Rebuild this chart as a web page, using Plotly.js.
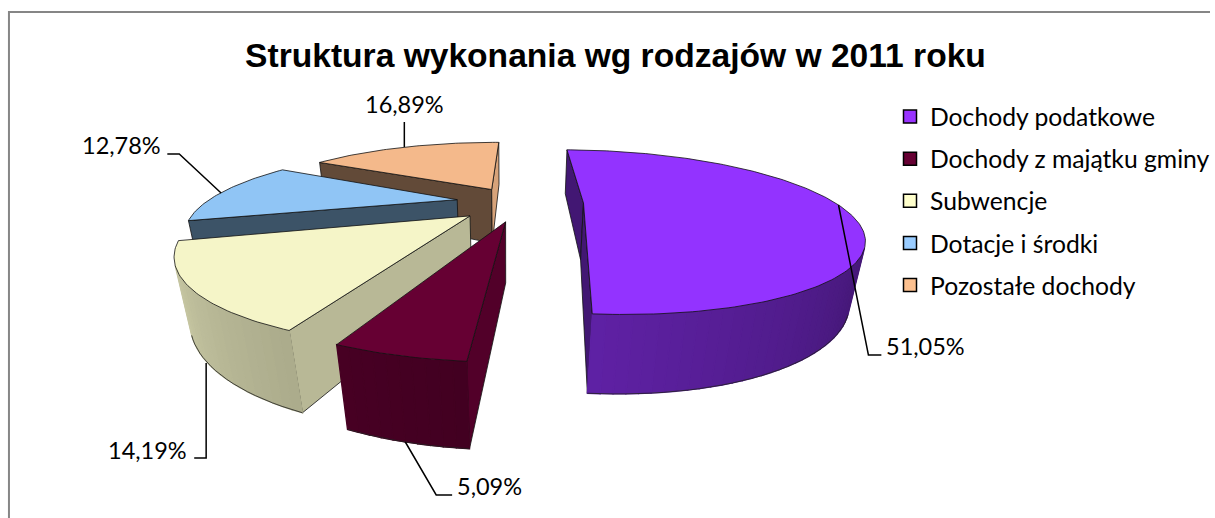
<!DOCTYPE html>
<html><head><meta charset="utf-8">
<script src="https://cdn.plot.ly/plotly-3.0.1.min.js"></script>
<style>html,body{margin:0;padding:0;background:#fff}</style></head>
<body><div id="chart" style="width:1215px;height:518px"></div>
<script>
// ---- data ----
const categories = ["Dochody podatkowe","Dochody z majątku gminy","Subwencje","Dotacje i środki","Pozostałe dochody"];
const values = [51.05,5.09,14.19,12.78,16.89];

// ---- styles ----
const topColors = ["#9333FF","#660033","#F5F5C8","#90C5F5","#F4B98B"];
const legendColors = ["#9933FF","#660033","#FFFFCC","#99CCFF","#FCC08F"];
const startShade = [0.45,0.80,0.75,0.42,0.40];
const endShade   = [0.45,0.80,0.75,0.42,0.88];
const pulls = [0.30,0.24,0.22,0.21,0.212];
const pullDirs = [90,182,220,283,341];
const drawOrder = [4,3,2,1,0];

// ---- 3D pie projection parameters ----
const cam = {c:510, cy:203, R:253, ry:72, k:0.354, m:0.04, D:59, rot:1};
function project(X,Y,z){
  const p = 1/(1+cam.k*Y+cam.m*z);
  return [cam.c+cam.R*X*p, cam.cy+(-cam.ry*Y+cam.D*z)*p];
}
const rad = d => d*Math.PI/180;
function shadeHex(hex,s){
  const n=parseInt(hex.slice(1),16);
  const f=v=>Math.round(v*s);
  return `rgb(${f(n>>16&255)},${f(n>>8&255)},${f(n&255)})`;
}
function arcShade(theta){ return Math.min(1,0.37+(theta-90)*0.0029); }

const total = values.reduce((a,b)=>a+b,0);
let acc = cam.rot;
const wedges = values.map((v,i)=>{
  const a0=acc, a1=acc+v/total*360; acc=a1;
  const dir=rad(pullDirs[i]);
  return {i,a0,a1,ex:pulls[i]*Math.sin(dir),ey:pulls[i]*Math.cos(dir)};
});
function rim(w,deg){ return [w.ex+Math.sin(rad(deg)),w.ey+Math.cos(rad(deg))]; }

const traces=[];
// legend entries
categories.forEach((name,i)=>traces.push({
  type:'scatter',mode:'markers',x:[null],y:[null],name,legendgroup:name,
  marker:{symbol:'square',size:13,color:legendColors[i],line:{color:'#000',width:1.5}},
  hoverinfo:'skip'
}));
function quad(a,b,color,outline){
  const t1=project(a[0],a[1],0),t2=project(b[0],b[1],0),b2=project(b[0],b[1],1),b1=project(a[0],a[1],1);
  const pts=[t1,t2,b2,b1];
  let area=0;
  for(let j=0;j<4;j++){const u=pts[j],w=pts[(j+1)%4];area+=u[0]*w[1]-w[0]*u[1];}
  if(area>=0) return false;
  traces.push({type:'scatter',mode:'lines',fill:'toself',fillcolor:color,
    x:[t1[0],t2[0],b2[0],b1[0],t1[0]],y:[t1[1],t2[1],b2[1],b1[1],t1[1]],
    line:{color:outline||color,width:outline?0.8:1.3},showlegend:false,hoverinfo:'skip'});
  return true;
}
drawOrder.forEach(idx=>{
  const w=wedges[idx],apex=[w.ex,w.ey];
  const base=topColors[idx];
  const s0=rim(w,w.a0),s1=rim(w,w.a1);
  quad(apex,s0,shadeHex(base,startShade[idx]),'#111');
  quad(s1,apex,shadeHex(base,endShade[idx]),'#111');
  const n=Math.max(3,Math.ceil((w.a1-w.a0)/2));
  const bx=[],by=[];
  for(let j=0;j<n;j++){
    const d0=w.a0+(w.a1-w.a0)*j/n,d1=w.a0+(w.a1-w.a0)*(j+1)/n;
    const vis=quad(rim(w,d0),rim(w,d1),shadeHex(base,arcShade((d0+d1)/2)));
    if(vis){
      const b0=project(...rim(w,d0),1),b1=project(...rim(w,d1),1);
      bx.push(b0[0],b1[0]);by.push(b0[1],b1[1]);
    }
  }
  if(bx.length) traces.push({type:'scatter',mode:'lines',x:bx,y:by,line:{color:'#222',width:0.8},showlegend:false,hoverinfo:'skip'});
  // top face
  const tx=[],ty=[];
  const a=project(apex[0],apex[1],0);tx.push(a[0]);ty.push(a[1]);
  const m=Math.ceil(w.a1-w.a0);
  for(let j=0;j<=m;j++){const q=project(...rim(w,w.a0+(w.a1-w.a0)*j/m),0);tx.push(q[0]);ty.push(q[1]);}
  tx.push(a[0]);ty.push(a[1]);
  traces.push({type:'scatter',mode:'lines',fill:'toself',fillcolor:base,x:tx,y:ty,
    line:{color:'#111',width:0.8},showlegend:false,name:categories[idx],hoverinfo:'name',hoveron:'fills'});
});

// ---- data labels ----
const fmt = v => v.toFixed(2).replace('.',',')+'%';
const labelPos = [[888,346,'left'],[457,486,'left'],[190,450,'right'],[164,145,'right'],[406,104,'center']];
const leaderPaths = [
  "M842,205L872,355L885,355",
  "M407,442L438,495L454,495",
  "M207,363L207,458L195,458",
  "M222,193L180,154L168,154",
  "M406,122L406,147"
];
const font = "Lato, 'Open Sans', sans-serif";
const annotations = values.map((v,i)=>({
  text:fmt(v),x:labelPos[i][0],y:labelPos[i][1],xref:'x',yref:'y',showarrow:false,
  xanchor:labelPos[i][2],yanchor:'middle',font:{family:font,size:23.5,color:'#000'}
}));
const shapes = leaderPaths.map(p=>({type:'path',path:p,xref:'x',yref:'y',line:{color:'#000',width:1.5},layer:'above'}));
shapes.push({type:'path',path:"M9,518L9,12L1215,12",xref:'x',yref:'y',line:{color:'#868686',width:2},layer:'below'});

Plotly.newPlot('chart',traces,{
  width:1215,height:518,autosize:false,
  margin:{l:0,r:0,t:0,b:0},
  paper_bgcolor:'#fff',plot_bgcolor:'#fff',
  title:{text:"Struktura wykonania wg rodzajów w 2011 roku",x:618/1215,xanchor:'center',xref:'paper',y:1-55/518,yanchor:'middle',yref:'paper',
    font:{family:"'Liberation Sans', Arial, sans-serif",size:33.6,color:'#000',weight:700}},
  xaxis:{range:[0,1215],visible:false,fixedrange:true},
  yaxis:{range:[518,0],visible:false,fixedrange:true},
  showlegend:true,
  legend:{x:894/1215,y:1-94/518,xanchor:'left',yanchor:'top',bgcolor:'rgba(0,0,0,0)',tracegroupgap:7,traceorder:'grouped',
    font:{family:font,size:24.7,color:'#000'}},
  annotations,shapes
},{displayModeBar:false,staticPlot:false});
</script></body></html>
